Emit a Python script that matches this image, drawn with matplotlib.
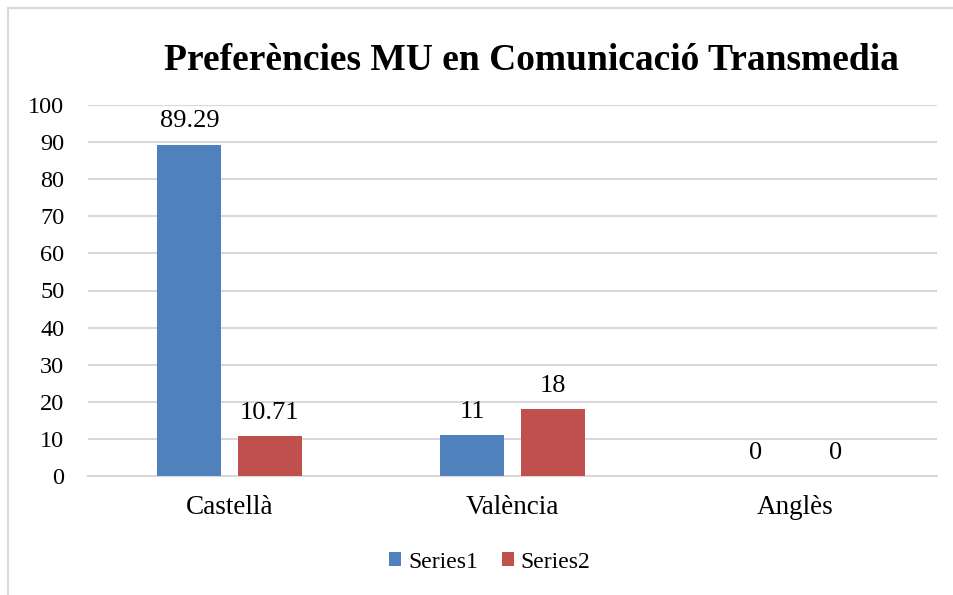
import matplotlib
matplotlib.use("Agg")
import matplotlib.pyplot as plt
import numpy as np
from matplotlib.patches import Rectangle

categories = ["Castellà", "València", "Anglès"]
series1 = [89.29, 11, 0]
series2 = [10.71, 18, 0]
labels1 = ["89.29", "11", "0"]
labels2 = ["10.71", "18", "0"]
yticks = [0, 10, 20, 30, 40, 50, 60, 70, 80, 90, 100]

plt.rcParams['font.family'] = ['Liberation Serif', 'DejaVu Serif']

fig = plt.figure(figsize=(9.54, 5.95), dpi=100)
fig.patches.append(Rectangle((8/954, -0.1), 1.2, 1 - 8/595 + 0.1, transform=fig.transFigure,
                             fill=False, edgecolor='#d9d9d9', linewidth=1.5))
ax = fig.add_axes([88/954, 1 - 476/595, (937 - 88)/954, (476 - 105)/595])

x = np.arange(len(categories))
w = 0.226
off = 0.142
c1 = '#4f81bd'
c2 = '#c0504d'
b1 = ax.bar(x - off, series1, w, color=c1, label='Series1', zorder=3)
b2 = ax.bar(x + off, series2, w, color=c2, label='Series2', zorder=3)

for xi, v, t in zip(x - off, series1, labels1):
    ax.text(xi, v + 4.7, t, ha='center', va='baseline', fontsize=19, color='#000000')
for xi, v, t in zip(x + off, series2, labels2):
    ax.text(xi, v + 4.7, t, ha='center', va='baseline', fontsize=19, color='#000000')

ax.set_xlim(-0.5, 2.5)
ax.set_ylim(0, 100)
ax.set_yticks(yticks)
ax.set_yticklabels([str(t) for t in yticks], fontsize=17.5)
ax.set_xticks(x)
ax.set_xticklabels(categories, fontsize=19.5)
ax.tick_params(axis='y', length=0, pad=17)
ax.tick_params(axis='x', length=0, pad=14)
ax.grid(axis='y', color='#d9d9d9', linewidth=1.5, zorder=0)
for s in ['top', 'right', 'left']:
    ax.spines[s].set_visible(False)
ax.spines['bottom'].set_color('#d9d9d9')
ax.spines['bottom'].set_linewidth(1.5)

fig.text(531/954, 1 - 60/595, "Preferències MU en Comunicació Transmedia", ha='center', va='center',
         fontsize=27, fontweight='bold')

fig.legend(handles=[b1, b2], loc='center', bbox_to_anchor=(490/954, 1 - 562/595), ncol=2,
           frameon=False, fontsize=17, handlelength=0.5, handleheight=0.5, handletextpad=0.3,
           columnspacing=1.0)

fig.savefig("out.png", dpi=100)
